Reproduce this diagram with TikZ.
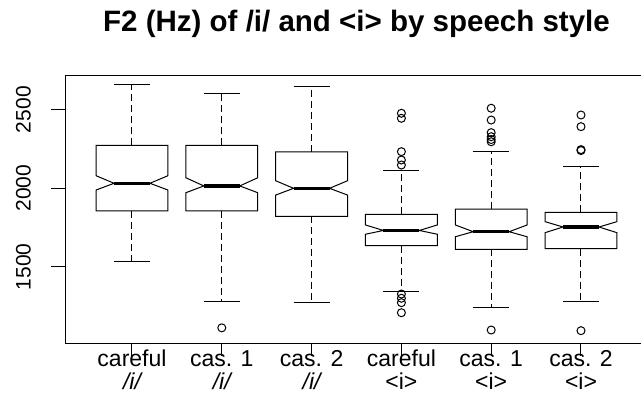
\documentclass[tikz,border=0pt]{standalone}
\usepackage{fontspec}
\setmainfont{Liberation Sans}
\begin{document}
\begin{tikzpicture}[x=89.8pt,y=0.1573pt]
		\tikzset{frame/.style = {draw,line width=1pt}}
		\tikzset{notchbox/.style = {draw,line width=1pt,line join=miter}}
		\tikzset{whisker/.style = {line width=1pt,dash pattern=on 7pt off 4pt}}
		\tikzset{staple/.style = {line width=1pt}}
		\tikzset{median/.style = {line width=3.4pt}}
		\tikzset{outlier/.style = {draw,line width=1pt}}
		\tikzset{ticklab/.style = {rotate=90,font=\fontsize{21}{24}\selectfont}}
		\tikzset{catlab/.style = {anchor=base,font=\fontsize{23}{26}\selectfont}}
		\useasboundingbox (-0.4699,686) rectangle (6.6682,3197.1);
		\clip (-0.4699,686) rectangle (6.6682,3197.1);
		% title
		\node[anchor=base,font=\bfseries\fontsize{29.5}{32}\selectfont] (title) at (3.5,3000) {F2 (Hz) of /i/ and <i> by speech style};
		% frame and axes
		\draw[frame] (0.26,1012) rectangle (6.74,2720);
		\foreach \v in {1500,2000,2500}
			\draw[line width=1pt] (0.26,\v) -- (0.098,\v);
		\node[ticklab] (y1500) at (-0.21,1500) {1500};
		\node[ticklab] (y2000) at (-0.21,2000) {2000};
		\node[ticklab] (y2500) at (-0.21,2500) {2500};
		\foreach \c in {1,...,6}
			\draw[line width=1pt] (\c,1012) -- (\c,936);
		% category labels
		\node[catlab] (c1) at (1,870) {careful};
		\node[catlab] (c2) at (2,870) {cas. 1};
		\node[catlab] (c3) at (3,870) {cas. 2};
		\node[catlab] (c4) at (4,870) {careful};
		\node[catlab] (c5) at (5,870) {cas. 1};
		\node[catlab] (c6) at (6,870) {cas. 2};
		\node[catlab,font=\itshape\fontsize{23}{26}\selectfont] (s1) at (1,722) {/i/};
		\node[catlab,font=\itshape\fontsize{23}{26}\selectfont] (s2) at (2,722) {/i/};
		\node[catlab,font=\itshape\fontsize{23}{26}\selectfont] (s3) at (3,722) {/i/};
		\node[catlab] (s4) at (4,722) {<i>};
		\node[catlab] (s5) at (5,722) {<i>};
		\node[catlab] (s6) at (6,722) {<i>};
		% boxes
		\foreach \c/\wl/\qa/\nl/\md/\nh/\qc/\wh in {
			1/1536/1856/1989/2032/2080/2273/2657,
			2/1279/1856/1972/2015/2067/2273/2601,
			3/1271/1822/1957/2000/2048/2231/2646,
			4/1343/1635/1708/1732/1767/1835/2116,
			5/1245/1612/1692/1724/1767/1868/2231,
			6/1279/1616/1718/1754/1788/1847/2140}
		{
			\draw[whisker] (\c,\qc) -- (\c,\wh);
			\draw[whisker] (\c,\qa) -- (\c,\wl);
			\draw[staple] (\c-0.2,\wh) -- (\c+0.2,\wh);
			\draw[staple] (\c-0.2,\wl) -- (\c+0.2,\wl);
			\draw[notchbox] (\c-0.4,\qa) -- (\c-0.4,\nl) -- (\c-0.2,\md) -- (\c-0.4,\nh)
				-- (\c-0.4,\qc) -- (\c+0.4,\qc) -- (\c+0.4,\nh) -- (\c+0.2,\md)
				-- (\c+0.4,\nl) -- (\c+0.4,\qa) -- cycle;
			\draw[median] (\c-0.2,\md) -- (\c+0.2,\md);
		}
		% outliers
		\foreach \c/\v in {2/1113,4/2477,4/2445,4/2233,4/2180,4/2148,4/1328,4/1301,4/1273,4/1209,
			5/2509,5/2434,5/2354,5/2328,5/2310,5/2296,5/1099,6/2466,6/2392,6/2246,6/2240,6/1095}
			\draw[outlier] (\c,\v) circle[radius=4pt];
\end{tikzpicture}
\end{document}
